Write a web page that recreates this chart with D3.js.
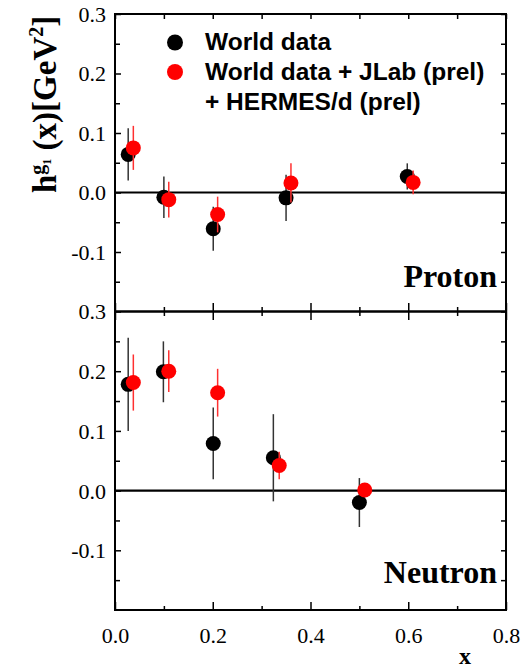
<!DOCTYPE html>
<html>
<head>
<meta charset="utf-8">
<script src="https://cdn.jsdelivr.net/npm/d3@7"></script>
<style>
  html, body { margin: 0; padding: 0; background: #fff; }
  svg { display: block; }
</style>
</head>
<body>
<svg id="chart" width="524" height="669"></svg>
<script>
// h1 moments for proton and neutron, two data sets each
const protonWorldX   = [0.027, 0.100, 0.201, 0.350, 0.598];
const protonWorldY   = [0.064, -0.008, -0.061, -0.009, 0.027];
const protonWorldErr = [0.044, 0.035, 0.037, 0.039, 0.022];

const protonNewX   = [0.0375, 0.110, 0.210, 0.360, 0.610];
const protonNewY   = [0.075, -0.012, -0.037, 0.016, 0.017];
const protonNewErr = [0.037, 0.030, 0.030, 0.033, 0.020];

const neutronWorldX   = [0.027, 0.099, 0.201, 0.324, 0.500];
const neutronWorldY   = [0.178, 0.199, 0.079, 0.055, -0.020];
const neutronWorldErr = [0.078, 0.051, 0.060, 0.073, 0.041];

const neutronNewX   = [0.0375, 0.110, 0.210, 0.336, 0.511];
const neutronNewY   = [0.181, 0.200, 0.164, 0.042, 0.001];
const neutronNewErr = [0.047, 0.035, 0.040, 0.023, 0.008];

const xTicksMajor = [0.0, 0.2, 0.4, 0.6, 0.8];
const xTicksMinor = [0.1, 0.3, 0.5, 0.7];
const yTicksLabeled = [-0.1, 0.0, 0.1, 0.2, 0.3];
const yTicksMinor = [-0.15, -0.05, 0.05, 0.15, 0.25];

const seriesNames = ["World data", "World data + JLab (prel)", "+ HERMES/d (prel)"];
const panelNames = ["Proton", "Neutron"];

const SERIF = '"Liberation Serif", "Times New Roman", serif';
const SANS = '"Liberation Sans", Arial, sans-serif';

const svg = d3.select("#chart");
const left = 115, right = 506;
const x = d3.scaleLinear().domain([0, 0.8]).range([left, right]);

const panels = [
  { name: panelNames[0], top: 14, bottom: 311.5,
    world: { x: protonWorldX, y: protonWorldY, e: protonWorldErr },
    extra: { x: protonNewX, y: protonNewY, e: protonNewErr } },
  { name: panelNames[1], top: 311.5, bottom: 610,
    world: { x: neutronWorldX, y: neutronWorldY, e: neutronWorldErr },
    extra: { x: neutronNewX, y: neutronNewY, e: neutronNewErr } }
];

// one decimal, plain hyphen for negatives
const fmt = d => d3.format(".1f")(d).replace("\u2212", "-");

const styleTicks = sel => {
  sel.select(".domain").remove();
  sel.selectAll("line").attr("stroke", "#000").attr("stroke-width", 1.5);
  sel.selectAll("text")
    .style("font-family", SERIF).style("font-size", "22px").attr("fill", "#000");
  return sel;
};

panels.forEach((p, i) => {
  const y = d3.scaleLinear().domain([-0.2, 0.3]).range([p.bottom, p.top]);
  const g = svg.append("g");

  // left axis: labels + inward ticks
  styleTicks(g.append("g").attr("transform", `translate(${left},0)`)
    .call(d3.axisLeft(y).tickValues(yTicksLabeled).tickSize(-6).tickPadding(9).tickFormat(fmt)))
    .selectAll("text").attr("dy", "0.34em");
  styleTicks(g.append("g").attr("transform", `translate(${left},0)`)
    .call(d3.axisLeft(y).tickValues(yTicksMinor).tickSize(-5).tickFormat("")));

  // right axis: inward ticks only
  styleTicks(g.append("g").attr("transform", `translate(${right},0)`)
    .call(d3.axisRight(y).tickValues(yTicksLabeled.concat(yTicksMinor)).tickSize(-5).tickFormat("")));

  if (i === 0) {
    // top edge ticks
    styleTicks(g.append("g").attr("transform", `translate(0,${p.top})`)
      .call(d3.axisTop(x).tickValues(xTicksMajor.concat(xTicksMinor)).tickSize(-5).tickFormat("")));
  } else {
    // shared boundary: ticks on both sides
    [1, -1].forEach(s => {
      styleTicks(g.append("g").attr("transform", `translate(0,${p.top})`)
        .call(d3.axisBottom(x).tickValues(xTicksMajor).tickSize(8.5 * s).tickFormat("")));
      styleTicks(g.append("g").attr("transform", `translate(0,${p.top})`)
        .call(d3.axisBottom(x).tickValues(xTicksMinor).tickSize(4.5 * s).tickFormat("")));
    });

    // bottom axis with labels
    styleTicks(g.append("g").attr("transform", `translate(0,${p.bottom})`)
      .call(d3.axisBottom(x).tickValues(xTicksMajor).tickSize(-8).tickPadding(17).tickFormat(fmt)));
    styleTicks(g.append("g").attr("transform", `translate(0,${p.bottom})`)
      .call(d3.axisBottom(x).tickValues(xTicksMinor).tickSize(-4).tickFormat("")));
  }

  // frame
  g.append("rect").attr("x", left).attr("y", p.top)
    .attr("width", right - left).attr("height", p.bottom - p.top)
    .attr("fill", "none").attr("stroke", "#000").attr("stroke-width", 2);

  // zero line
  g.append("line").attr("x1", left).attr("x2", right)
    .attr("y1", y(0)).attr("y2", y(0))
    .attr("stroke", "#000").attr("stroke-width", 2.2);

  // data series: error bars under filled circles
  const drawSeries = (s, color, barColor) => {
    const pts = s.x.map((xv, k) => ({ x: xv, y: s.y[k], e: s.e[k] }));
    g.append("g").selectAll("line").data(pts).join("line")
      .attr("x1", d => x(d.x)).attr("x2", d => x(d.x))
      .attr("y1", d => y(d.y + d.e)).attr("y2", d => y(d.y - d.e))
      .attr("stroke", barColor).attr("stroke-width", 1.5);
    g.append("g").selectAll("circle").data(pts).join("circle")
      .attr("cx", d => x(d.x)).attr("cy", d => y(d.y)).attr("r", 7.5)
      .attr("fill", color);
  };
  drawSeries(p.world, "#000", "#333");
  drawSeries(p.extra, "#ff0000", "#ff3030");

  // panel label
  g.append("text")
    .attr("x", 497).attr("y", i === 0 ? 287 : 583)
    .attr("text-anchor", "end")
    .style("font-family", SERIF).style("font-size", "32px").style("font-weight", "bold")
    .text(p.name);
});

// legend
const legend = svg.append("g");
legend.append("circle").attr("cx", 175).attr("cy", 42.5).attr("r", 8).attr("fill", "#000");
legend.append("circle").attr("cx", 175).attr("cy", 72).attr("r", 8).attr("fill", "#ff0000");
[50, 80, 110].forEach((yy, k) => {
  legend.append("text")
    .attr("x", 205).attr("y", yy)
    .style("font-family", SANS).style("font-size", "24.5px").style("font-weight", "bold")
    .text(seriesNames[k]);
});

// y axis title
const yt = svg.append("text")
  .attr("transform", "translate(56,193) rotate(-90)")
  .style("font-family", SERIF).style("font-weight", "bold").style("font-size", "33px");
yt.append("tspan").text("h");
yt.append("tspan").attr("dy", "-12").style("font-size", "20px").text("g");
yt.append("tspan").attr("dy", "7").style("font-size", "12px").text("1");
yt.append("tspan").attr("dy", "5").text(" (x)[GeV");
yt.append("tspan").attr("dy", "-13").style("font-size", "20px").text("2");
yt.append("tspan").attr("dy", "13").text("]");

// x axis title
svg.append("text")
  .attr("x", 465).attr("y", 664).attr("text-anchor", "middle")
  .style("font-family", SERIF).style("font-size", "24px").style("font-weight", "bold")
  .text("x");
</script>
</body>
</html>
